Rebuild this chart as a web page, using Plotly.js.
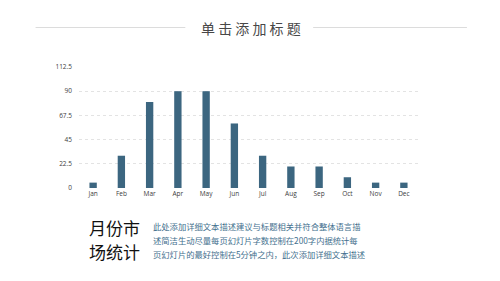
<!DOCTYPE html>
<html><head><meta charset="utf-8">
<script src="https://cdn.plot.ly/plotly-3.0.1.min.js"></script>
<style>html,body{margin:0;padding:0;background:#fff}#c{width:500px;height:281px}</style>
</head><body><div id="c"></div>
<script>
const months = ["Jan","Feb","Mar","Apr","May","Jun","Jul","Aug","Sep","Oct","Nov","Dec"];
const values = [5,30,80,90,90,60,30,20,20,10,5,5];
const yTicks = [0,22.5,45,67.5,90,112.5];
const titleText = "单 击 添 加 标 题";
const headText = ["月份市","场统计"];
const descLines = [
  "此处添加详细文本描述建议与标题相关并符合整体语言描",
  "述简洁生动尽量每页幻灯片字数控制在200字内据统计每",
  "页幻灯片的最好控制在5分钟之内，此次添加详细文本描述"
];

const L=78.5, R=418, T=67, B=188;
const px=x=>(x-L)/(R-L), py=y=>(B-y)/(B-T);
const font="Noto Sans CJK SC, Noto Sans, sans-serif";
const tickFont="Open Sans, Noto Sans, sans-serif";

const annotations=[
  {text:titleText,x:px(250.5),y:py(27.5),xref:'paper',yref:'paper',showarrow:false,xanchor:'center',yanchor:'middle',font:{family:font,size:14,color:'#474747'}},
];
headText.forEach((t,i)=>annotations.push({text:t,x:px(87),y:py(227+i*24),xref:'paper',yref:'paper',showarrow:false,xanchor:'left',yanchor:'middle',font:{family:font,size:17,color:'#111111'}}));
descLines.forEach((t,i)=>annotations.push({text:t,x:px(151),y:py(225.5+i*14.5),xref:'paper',yref:'paper',showarrow:false,xanchor:'left',yanchor:'middle',font:{family:font,size:8.3,color:'#44708e'}}));

const shapes=[
  {type:'line',xref:'paper',yref:'paper',x0:px(35),x1:px(185),y0:py(27.5),y1:py(27.5),line:{color:'#dcdcdc',width:1}},
  {type:'line',xref:'paper',yref:'paper',x0:px(313),x1:px(467),y0:py(27.5),y1:py(27.5),line:{color:'#dcdcdc',width:1}}
];

Plotly.newPlot('c',[{
  type:'bar',x:months,y:values,marker:{color:'#3c6680'},hoverinfo:'none'
}],{
  width:500,height:281,
  margin:{l:L,r:500-R,t:T,b:281-B,pad:0},
  paper_bgcolor:'#fff',plot_bgcolor:'#fff',
  bargap:0.74,showlegend:false,
  xaxis:{type:'category',tickfont:{family:tickFont,size:6.5,color:'#404040'},showgrid:false,zeroline:false,showline:false,ticks:'',ticklen:0},
  yaxis:{range:[0,112.5],tickvals:yTicks,ticktext:yTicks.map(String),tickfont:{family:tickFont,size:6.5,color:'#404040'},showgrid:true,gridcolor:'#e3e3e3',griddash:'dot',gridwidth:1,zeroline:false,ticks:'',ticklabelstandoff:6},
  annotations,shapes
},{staticPlot:true,displayModeBar:false});
</script></body></html>
